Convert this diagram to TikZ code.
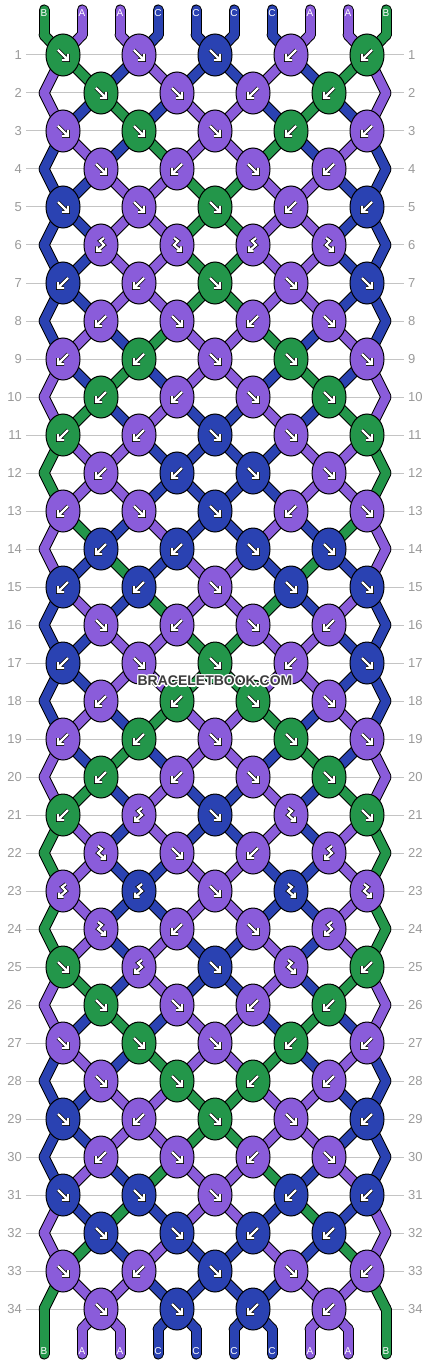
\documentclass[tikz,border=0pt]{standalone}
\usepackage{fontspec}
\setmainfont{Liberation Sans}
\usetikzlibrary{shapes.geometric}
\pgfdeclarelayer{rows}
\pgfdeclarelayer{outl}
\pgfdeclarelayer{fills}
\pgfsetlayers{rows,outl,fills,main}

\definecolor{colA}{HTML}{8A5CDA}
\definecolor{colB}{HTML}{23964A}
\definecolor{colC}{HTML}{2A42B2}
\definecolor{rowgrey}{HTML}{C4C4C4}
\definecolor{numgrey}{HTML}{9A9A9A}
\definecolor{wmgrey}{HTML}{3C3C3C}

\tikzset{
  knot/.style={ellipse, draw=black, line width=1pt, minimum width=34pt, minimum height=42pt, inner sep=0pt},
  glyph/.style={draw=black, double=white, double distance=2.2pt, line width=0.8pt},
  strout/.style={draw=black, line width=11pt, line cap=round},
  strin/.style={line width=9pt, line cap=round},
  rowline/.style={draw=rowgrey, line width=1pt},
  rownum/.style={text=numgrey, font=\fontsize{13}{13}\selectfont, inner sep=4pt},
  strlabel/.style={text=white, font=\fontsize{10}{10}\selectfont, inner sep=0pt},
  wmark/.style={text=wmgrey, font=\bfseries\fontsize{14}{14}\selectfont, inner sep=0pt},
}

% knot symbols, drawn round the knot centre
\newcommand{\glyphf}{\draw[glyph] (-5,-5) -- (5,5) (5,-1) -- (5,5) -- (-1,5);}
\newcommand{\glyphb}{\draw[glyph] (5,-5) -- (-5,5) (-5,-1) -- (-5,5) -- (1,5);}
\newcommand{\glyphfb}{\draw[glyph] (-3,-7) -- (1,-4) -- (-3,0) -- (4,6) (4,1.5) -- (4,6) -- (-0.5,6);}
\newcommand{\glyphbf}{\draw[glyph] (3,-7) -- (-1,-4) -- (3,0) -- (-4,6) (-4,1.5) -- (-4,6) -- (0.5,6);}

% name of the point where string position #1 sits in row #2
\newcommand{\ptname}[2]{%
  \pgfmathtruncatemacro{\rr}{#2}%
  \ifnum\rr=0
    \edef\pn{t#1}%
  \else\ifnum\rr=35
    \edef\pn{b#1}%
  \else\ifodd\rr
    \pgfmathtruncatemacro{\jj}{div(#1,2)}\edef\pn{k\rr-\jj}%
  \else\ifnum#1=0
    \edef\pn{el\rr}%
  \else\ifnum#1=9
    \edef\pn{er\rr}%
  \else
    \pgfmathtruncatemacro{\jj}{div(#1-1,2)}\edef\pn{k\rr-\jj}%
  \fi\fi\fi\fi\fi}

% colour of each string position below row r
\def\statelist{
    0/{B,A,A,C,C,C,C,A,A,B}, 1/{A,B,C,A,C,C,A,C,B,A},
    2/{A,C,B,C,A,A,C,B,C,A}, 3/{C,A,C,B,A,A,B,C,A,C},
    4/{C,C,A,A,B,B,A,A,C,C}, 5/{C,C,A,A,B,B,A,A,C,C},
    6/{C,C,A,A,B,B,A,A,C,C}, 7/{C,C,A,A,B,B,A,A,C,C},
    8/{C,A,C,B,A,A,B,C,A,C}, 9/{A,C,B,C,A,A,C,B,C,A},
    10/{A,B,C,A,C,C,A,C,B,A}, 11/{B,A,A,C,C,C,C,A,A,B},
    12/{B,A,A,C,C,C,C,A,A,B}, 13/{A,B,C,A,C,C,A,C,B,A},
    14/{A,C,B,C,A,A,C,B,C,A}, 15/{C,A,C,B,A,A,B,C,A,C},
    16/{C,C,A,A,B,B,A,A,C,C}, 17/{C,C,A,A,B,B,A,A,C,C},
    18/{C,A,C,B,A,A,B,C,A,C}, 19/{A,C,B,C,A,A,C,B,C,A},
    20/{A,B,C,A,C,C,A,C,B,A}, 21/{B,A,C,A,C,C,A,C,A,B},
    22/{B,A,C,C,A,A,C,C,A,B}, 23/{B,A,C,C,A,A,C,C,A,B},
    24/{B,A,C,A,C,C,A,C,A,B}, 25/{A,B,C,A,C,C,A,C,B,A},
    26/{A,C,B,C,A,A,C,B,C,A}, 27/{C,A,C,B,A,A,B,C,A,C},
    28/{C,C,A,A,B,B,A,A,C,C}, 29/{C,C,A,A,B,B,A,A,C,C},
    30/{C,A,C,B,A,A,B,C,A,C}, 31/{A,C,B,C,A,A,C,B,C,A},
    32/{A,B,C,A,C,C,A,C,B,A}, 33/{B,A,A,C,C,C,C,A,A,B},
    34/{B,A,A,C,C,C,C,A,A,B}}

\def\endslist{B,A,A,C,C,C,C,A,A,B}

\begin{document}
\begin{tikzpicture}[x=1pt, y=-1pt]
  \useasboundingbox (0,0) rectangle (430,1364);

  % row numbers
  \begin{pgfonlayer}{rows}
    \fill[white] (0,0) rectangle (430,1364);
    \foreach \r in {1,...,34} {
      \pgfmathsetmacro{\y}{55+38*(\r-1)}
      \node[rownum, anchor=east] (ln\r) at (26,\y) {\r};
      \node[rownum, anchor=west] (rn\r) at (404,\y) {\r};
      \draw[rowline] (ln\r) -- (rn\r);
    }
  \end{pgfonlayer}

  % knots: colour/type
  \foreach \r/\kn in {
    1/{B/f,A/f,C/f,A/b,B/b}, 2/{B/f,A/f,A/b,B/b},
    3/{A/f,B/f,A/f,B/b,A/b}, 4/{A/f,A/b,A/f,A/b},
    5/{C/f,A/f,B/f,A/b,C/b}, 6/{A/bf,A/fb,A/bf,A/fb},
    7/{C/b,A/b,B/f,A/f,C/f}, 8/{A/b,A/f,A/b,A/f},
    9/{A/b,B/b,A/f,B/f,A/f}, 10/{B/b,A/b,A/f,B/f},
    11/{B/b,A/b,C/f,A/f,B/f}, 12/{A/b,C/b,C/f,A/f},
    13/{A/b,A/f,C/f,A/b,A/f}, 14/{C/b,C/b,C/f,C/f},
    15/{C/b,C/b,A/f,C/f,C/f}, 16/{A/f,A/b,A/f,A/b},
    17/{C/b,A/f,B/f,A/b,C/f}, 18/{A/b,B/b,B/f,A/f},
    19/{A/b,B/b,A/f,B/f,A/f}, 20/{B/b,A/b,A/f,B/f},
    21/{B/b,A/bf,C/f,A/fb,B/f}, 22/{A/fb,A/f,A/b,A/bf},
    23/{A/bf,C/bf,A/f,C/fb,A/fb}, 24/{A/fb,A/b,A/f,A/bf},
    25/{B/f,A/bf,C/f,A/fb,B/b}, 26/{B/f,A/f,A/b,B/b},
    27/{A/f,B/f,A/f,B/b,A/b}, 28/{A/f,B/f,B/b,A/b},
    29/{C/f,A/b,B/f,A/f,C/b}, 30/{A/b,A/f,A/b,A/f},
    31/{C/f,C/f,A/f,C/b,C/b}, 32/{C/f,C/f,C/b,C/b},
    33/{A/f,A/b,C/f,A/f,A/b}, 34/{A/f,C/f,C/b,A/b}} {
    \pgfmathsetmacro{\y}{55+38*(\r-1)}
    \ifodd\r\relax
      \def\xo{63}
    \else
      \def\xo{101}
      \coordinate (el\r) at (44,\y);
      \coordinate (er\r) at (386,\y);
    \fi
    \foreach \c/\t [count=\j from 0] in \kn {
      \pgfmathsetmacro{\x}{\xo+76*\j}
      \node[knot, fill=col\c] (k\r-\j) at (\x,\y) {};
      \begin{scope}[shift={(\x,\y)}]
        \csname glyph\t\endcsname
      \end{scope}
    }
  }

  % loose ends with their letters
  \foreach \c [count=\i from 0] in \endslist {
    \pgfmathsetmacro{\x}{44+38*\i}
    \coordinate (tt\i) at (\x,10);
    \coordinate (t\i) at (\x,35);
    \coordinate (b\i) at (\x,1329);
    \coordinate (bb\i) at (\x,1354);
    \node[strlabel] (lt\i) at (\x,13) {\c};
    \node[strlabel] (lb\i) at (\x,1351) {\c};
  }

  % strings, black edges first
  \begin{pgfonlayer}{outl}
    \foreach \r/\st in \statelist {
      \pgfmathtruncatemacro{\rn}{\r+1}
      \foreach \c [count=\i from 0] in \st {
        \ptname{\i}{\r}\let\pa\pn
        \ptname{\i}{\rn}\let\pb\pn
        \draw[strout] (\pa.center) -- (\pb.center);
      }
    }
    \foreach \i in {0,...,9} {
      \draw[strout] (tt\i) -- (t\i);
      \draw[strout] (b\i) -- (bb\i);
    }
  \end{pgfonlayer}
  \begin{pgfonlayer}{fills}
    \foreach \r/\st in \statelist {
      \pgfmathtruncatemacro{\rn}{\r+1}
      \foreach \c [count=\i from 0] in \st {
        \ptname{\i}{\r}\let\pa\pn
        \ptname{\i}{\rn}\let\pb\pn
        \draw[strin, col\c] (\pa.center) -- (\pb.center);
      }
    }
    \foreach \c [count=\i from 0] in \endslist {
      \draw[strin, col\c] (tt\i) -- (t\i);
      \draw[strin, col\c] (b\i) -- (bb\i);
    }
  \end{pgfonlayer}

  % watermark
  \foreach \dx/\dy [count=\h] in {-1.2/0,1.2/0,0/-1.2,0/1.2,-1/-1,1/1,-1/1,1/-1} {
    \node[wmark, text=white] (wh\h) at (215+\dx,681+\dy) {BRACELETBOOK.COM};
  }
  \node[wmark] (wm) at (215,681) {BRACELETBOOK.COM};
\end{tikzpicture}
\end{document}
